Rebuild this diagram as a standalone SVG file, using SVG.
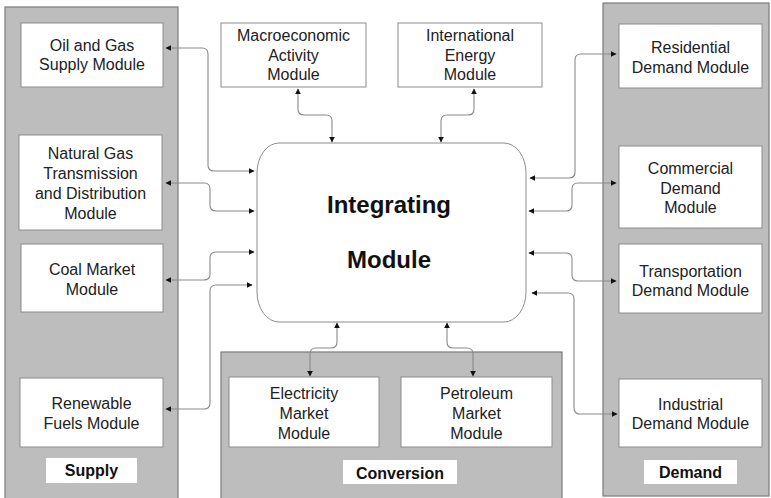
<svg xmlns="http://www.w3.org/2000/svg" width="771" height="498" viewBox="0 0 771 498">
<defs>
<marker id="ah" viewBox="0 0 10 10" refX="9" refY="5" markerWidth="6" markerHeight="6" markerUnits="userSpaceOnUse" orient="auto-start-reverse">
<path d="M0,0 L10,5 L0,10 z" fill="#111"/>
</marker>
<style>
.panel{fill:#bdbdbd;stroke:#7a7a7a;stroke-width:1.2}
.box{fill:#fff;stroke:#8c8c8c;stroke-width:1}
.lbl{fill:#fff;stroke:none}
.t{font-family:"Liberation Sans",Arial,sans-serif;font-size:16px;fill:#222;text-anchor:middle}
.b{font-family:"Liberation Sans",Arial,sans-serif;font-size:16px;font-weight:bold;fill:#111;text-anchor:middle}
.big{font-family:"Liberation Sans",Arial,sans-serif;font-size:24px;font-weight:bold;fill:#111;text-anchor:middle}
.c{fill:none;stroke:#8a8a8a;stroke-width:1.1;marker-start:url(#ah);marker-end:url(#ah)}
</style>
</defs>
<rect width="771" height="498" fill="#fff"/>
<g id="supply-panel">
<rect class="panel" x="5" y="7" width="173" height="500"/>
<rect class="lbl" x="46" y="458" width="91" height="25"/>
<text class="b" x="91.5" y="476">Supply</text>
</g>
<g id="conversion-panel">
<rect class="panel" x="221" y="352" width="341" height="160"/>
<rect class="lbl" x="343" y="460" width="114" height="24"/>
<text class="b" x="400" y="479">Conversion</text>
</g>
<g id="demand-panel">
<rect class="panel" x="603" y="3" width="166" height="493"/>
<rect class="lbl" x="644" y="460" width="93" height="24"/>
<text class="b" x="690.5" y="478">Demand</text>
</g>
<g id="oil-gas">
<rect class="box" x="21" y="23" width="142" height="64"/>
<text class="t" x="92" y="51">Oil and Gas</text>
<text class="t" x="92" y="70">Supply Module</text>
</g>
<g id="natural-gas">
<rect class="box" x="19" y="135" width="143" height="95"/>
<text class="t" x="90.5" y="159">Natural Gas</text>
<text class="t" x="90.5" y="179">Transmission</text>
<text class="t" x="90.5" y="199">and Distribution</text>
<text class="t" x="90.5" y="219">Module</text>
</g>
<g id="coal">
<rect class="box" x="21" y="244" width="142" height="68"/>
<text class="t" x="92" y="275">Coal Market</text>
<text class="t" x="92" y="295">Module</text>
</g>
<g id="renewable">
<rect class="box" x="20" y="378" width="143" height="69"/>
<text class="t" x="91.5" y="409">Renewable</text>
<text class="t" x="91.5" y="429">Fuels Module</text>
</g>
<g id="macro">
<rect class="box" x="221" y="23" width="145" height="64"/>
<text class="t" x="293.5" y="41">Macroeconomic</text>
<text class="t" x="293.5" y="61">Activity</text>
<text class="t" x="293.5" y="80">Module</text>
</g>
<g id="international">
<rect class="box" x="398" y="23" width="144" height="64"/>
<text class="t" x="470" y="41">International</text>
<text class="t" x="470" y="61">Energy</text>
<text class="t" x="470" y="80">Module</text>
</g>
<g id="integrating">
<rect class="box" x="257" y="143" width="269" height="179" rx="22" ry="30"/>
<text class="big" x="389" y="213">Integrating</text>
<text class="big" x="389" y="268">Module</text>
</g>
<g id="electricity">
<rect class="box" x="229" y="377" width="150" height="70"/>
<text class="t" x="304" y="399">Electricity</text>
<text class="t" x="304" y="419">Market</text>
<text class="t" x="304" y="439">Module</text>
</g>
<g id="petroleum">
<rect class="box" x="401" y="377" width="151" height="70"/>
<text class="t" x="476.5" y="399">Petroleum</text>
<text class="t" x="476.5" y="419">Market</text>
<text class="t" x="476.5" y="439">Module</text>
</g>
<g id="residential">
<rect class="box" x="619" y="24" width="143" height="64"/>
<text class="t" x="690.5" y="53">Residential</text>
<text class="t" x="690.5" y="73">Demand Module</text>
</g>
<g id="commercial">
<rect class="box" x="619" y="146" width="143" height="82"/>
<text class="t" x="690.5" y="174">Commercial</text>
<text class="t" x="690.5" y="194">Demand</text>
<text class="t" x="690.5" y="213">Module</text>
</g>
<g id="transportation">
<rect class="box" x="619" y="244" width="143" height="69"/>
<text class="t" x="690.5" y="277">Transportation</text>
<text class="t" x="690.5" y="296">Demand Module</text>
</g>
<g id="industrial">
<rect class="box" x="619" y="379" width="143" height="68"/>
<text class="t" x="690.5" y="410">Industrial</text>
<text class="t" x="690.5" y="429">Demand Module</text>
</g>
<g id="connectors">
<path class="c" d="M166 48 H202 Q208 48 208 54 V165 Q208 171 214 171 H254"/>
<path class="c" d="M166 183 H204 Q210 183 210 189 V205 Q210 211 216 211 H254"/>
<path class="c" d="M166 280 H204 Q210 280 210 274 V258 Q210 252 216 252 H254"/>
<path class="c" d="M166 409 H204 Q210 409 210 403 V291 Q210 285 216 285 H252"/>
<path class="c" d="M298 89 V109 Q298 115 304 115 H326 Q332 115 332 121 V142"/>
<path class="c" d="M474 89 V109 Q474 115 468 115 H447 Q441 115 441 121 V142"/>
<path class="c" d="M337 323 V342 Q337 348 331 348 H316 Q310 348 310 354 V376"/>
<path class="c" d="M447 323 V342 Q447 348 453 348 H467 Q473 348 473 354 V376"/>
<path class="c" d="M530 178 H569 Q575 178 575 172 V60 Q575 54 581 54 H616"/>
<path class="c" d="M529 211 H566 Q572 211 572 205 V189 Q572 183 578 183 H616"/>
<path class="c" d="M529 253 H566 Q572 253 572 259 V275 Q572 281 578 281 H616"/>
<path class="c" d="M532 293 H568 Q574 293 574 299 V408 Q574 414 580 414 H617"/>
</g>
</svg>
